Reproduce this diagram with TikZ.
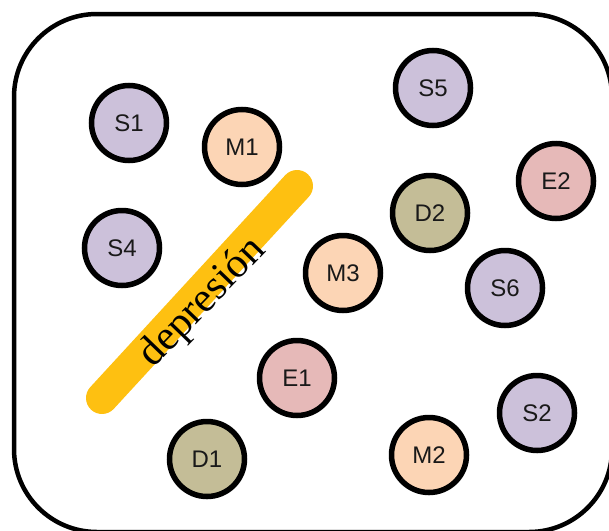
\documentclass[tikz,border=0pt]{standalone}
\usepackage{fontspec}
\setmainfont{Liberation Sans}
\newfontfamily\bandfont{Liberation Serif}
\definecolor{sfill}{RGB}{204,193,218}
\definecolor{mfill}{RGB}{252,213,181}
\definecolor{efill}{RGB}{230,185,184}
\definecolor{dfill}{RGB}{196,189,151}
\definecolor{bandyellow}{RGB}{254,192,17}
\tikzset{
  ball/.style={circle, draw=black, line width=5.5pt, minimum size=75pt, inner sep=0pt,
    font=\fontsize{24}{24}\selectfont, text=black!90},
  sball/.style={ball, fill=sfill},
  mball/.style={ball, fill=mfill},
  eball/.style={ball, fill=efill},
  dball/.style={ball, fill=dfill},
}
\begin{document}
\begin{tikzpicture}[x=1pt,y=-1pt]
\useasboundingbox (0,0) rectangle (609,530);
\draw[line width=4.5pt, rounded corners=83pt] (14,14) rectangle (612,532);
% band
\coordinate (b1) at (102,398);
\coordinate (b2) at (297,186);
\draw[bandyellow, line width=32pt, line cap=round] (b1) -- (b2);
\node[rotate=46, font=\bandfont\fontsize{42}{42}\selectfont, inner sep=0pt] (dep) at (203,303) {depresión};
% balls
\node[sball] (S1) at (129,123) {S1};
\node[mball] (M1) at (242,147) {M1};
\node[sball] (S5) at (433,88) {S5};
\node[eball] (E2) at (556,181) {E2};
\node[dball] (D2) at (430,213) {D2};
\node[sball] (S4) at (122,248) {S4};
\node[mball] (M3) at (343,273) {M3};
\node[sball] (S6) at (505,288) {S6};
\node[eball] (E1) at (297,378) {E1};
\node[sball] (S2) at (537,413) {S2};
\node[dball] (D1) at (207,459) {D1};
\node[mball] (M2) at (429,455) {M2};
\end{tikzpicture}
\end{document}
